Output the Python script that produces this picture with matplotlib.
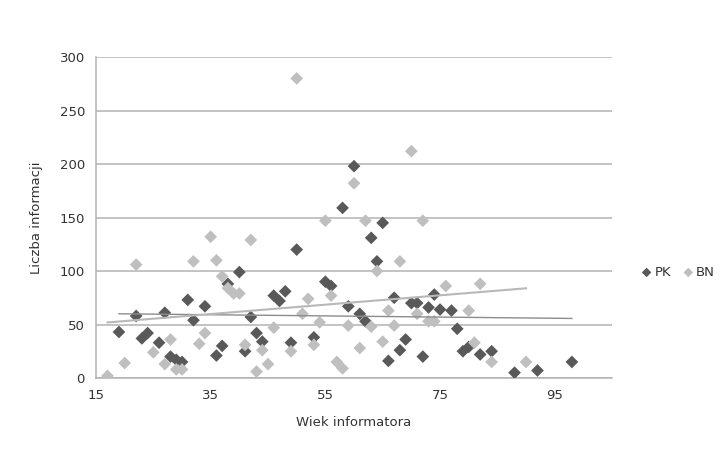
import numpy as np
import matplotlib
matplotlib.use("Agg")
import matplotlib.pyplot as plt

# wiek informatora / liczba informacji
pk_age = [19, 22, 24, 23, 26, 27, 28, 29, 30, 31, 32, 34, 36, 37, 38, 40, 41, 42,
          43, 44, 46, 47, 48, 49, 50, 53, 55, 56, 58, 59, 60, 61, 62, 63, 64, 65,
          66, 67, 68, 69, 70, 71, 72, 73, 74, 75, 77, 78, 79, 80, 82, 84, 88, 92, 98]
pk_info = [43, 58, 42, 37, 33, 61, 20, 17, 15, 73, 54, 67, 21, 30, 88, 99, 25, 57,
           42, 34, 77, 72, 81, 33, 120, 38, 90, 86, 159, 67, 198, 60, 53, 131, 109, 145,
           16, 75, 26, 36, 70, 70, 20, 66, 78, 64, 63, 46, 25, 29, 22, 25, 5, 7, 15]

bn_age = [17, 20, 22, 25, 27, 28, 29, 30, 32, 33, 34, 35, 36, 37, 38, 39, 40, 41,
          42, 43, 44, 45, 46, 49, 50, 51, 52, 53, 54, 55, 56, 57, 58, 59, 60, 61,
          62, 63, 64, 65, 66, 67, 68, 70, 71, 72, 73, 74, 76, 80, 81, 82, 84, 90]
bn_info = [2, 14, 106, 24, 13, 36, 8, 8, 109, 32, 42, 132, 110, 95, 84, 79, 79, 31,
           129, 6, 26, 13, 47, 25, 280, 60, 74, 31, 52, 147, 77, 15, 9, 49, 182, 28,
           147, 48, 100, 34, 63, 49, 109, 212, 60, 147, 53, 53, 86, 63, 33, 88, 15, 15]

x_ticks = [15, 35, 55, 75, 95]
y_ticks = [0, 50, 100, 150, 200, 250, 300]

pk_color = "#595959"
bn_color = "#bfbfbf"
grid_color = "#b3b3b3"

fig = plt.figure(figsize=(7.23, 4.54), dpi=100)
ax = fig.add_axes([0.1328, 0.1674, 0.8465 - 0.1328, 0.8744 - 0.1674])

for y in y_ticks:
    ax.axhline(y, color=grid_color, linewidth=1.1, zorder=0)

ax.scatter(pk_age, pk_info, marker="D", s=42, color=pk_color, edgecolors="none",
           label="PK", zorder=3)
ax.scatter(bn_age, bn_info, marker="D", s=42, color=bn_color, edgecolors="none",
           label="BN", zorder=3)

# linie trendu (liniowe)
for xs, ys, col, lw in [(pk_age, pk_info, "#8c8c8c", 1.0), (bn_age, bn_info, "#b8b8b8", 1.5)]:
    a, b = np.polyfit(xs, ys, 1)
    xx = np.array([min(xs), max(xs)])
    ax.plot(xx, a * xx + b, color=col, linewidth=lw, zorder=4)

ax.set_xlim(15, 105)
ax.set_ylim(0, 300)
ax.set_xticks(x_ticks)
ax.set_yticks(y_ticks)
ax.tick_params(length=0, labelsize=9.5, colors="#333333", pad=8)
for side in ["top", "right"]:
    ax.spines[side].set_visible(False)
for side in ["left", "bottom"]:
    ax.spines[side].set_color(grid_color)
    ax.spines[side].set_linewidth(1.1)

ax.set_xlabel("Wiek informatora", fontsize=9.5, color="#333333", labelpad=10)
ax.set_ylabel("Liczba informacji", fontsize=9.5, color="#333333", labelpad=12)

fig.legend(loc="center left", bbox_to_anchor=(0.887, 0.40), ncol=2, frameon=False,
           fontsize=9.5, handletextpad=0.2, columnspacing=0.9, handlelength=0.8,
           markerscale=0.75, labelcolor="#333333", borderaxespad=0, borderpad=0)

fig.savefig("out.png", dpi=100)
